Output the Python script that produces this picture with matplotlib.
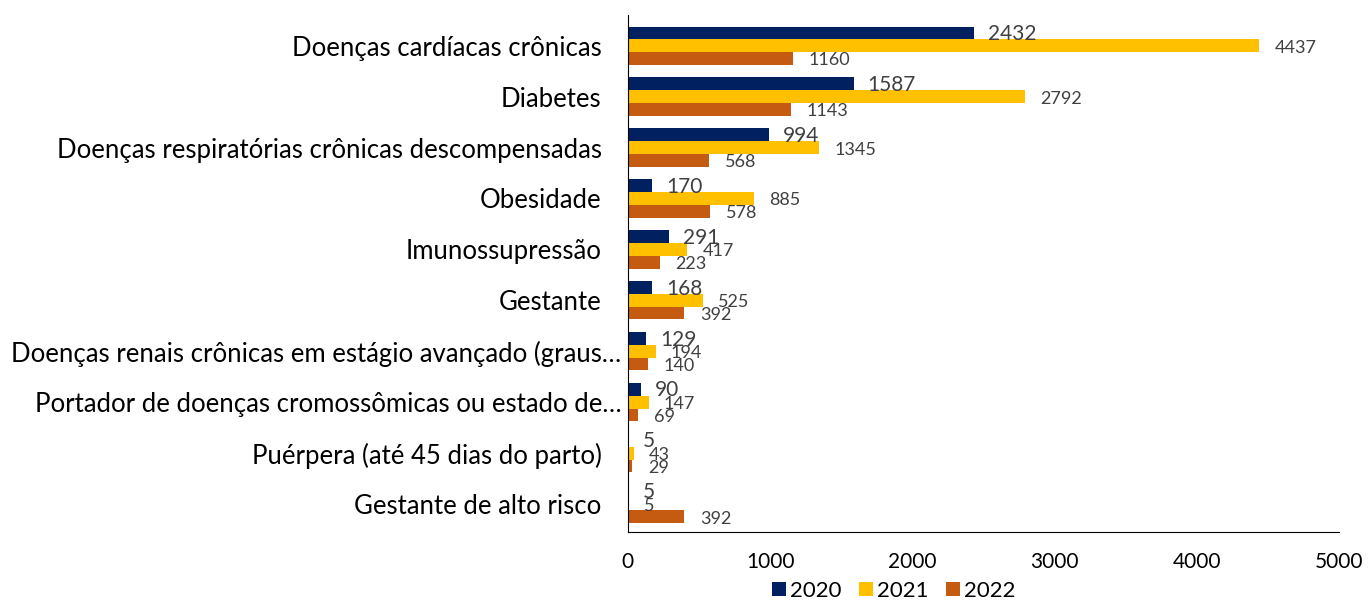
import matplotlib.pyplot as plt
import matplotlib.transforms as mtransforms
import numpy as np

plt.rcParams["font.family"] = ["Lato", "DejaVu Sans"]

categories = [
    "Doenças cardíacas crônicas",
    "Diabetes",
    "Doenças respiratórias crônicas descompensadas",
    "Obesidade",
    "Imunossupressão",
    "Gestante",
    "Doenças renais crônicas em estágio avançado (graus…",
    "Portador de doenças cromossômicas ou estado de…",
    "Puérpera (até 45 dias do parto)",
    "Gestante de alto risco",
]
years = ["2020", "2021", "2022"]
v2020 = [2432, 1587, 994, 170, 291, 168, 129, 90, 5, 5]
v2021 = [4437, 2792, 1345, 885, 417, 525, 194, 147, 43, 5]
v2022 = [1160, 1143, 568, 578, 223, 392, 140, 69, 29, 392]

colors = ["#002060", "#FFC000", "#C55A11"]

fig = plt.figure(figsize=(13.71, 6.04), dpi=100)
ax = fig.add_axes([0.458, 0.119, 0.519, 0.856])

y = np.arange(len(categories))
h = 0.25
series = [v2020, v2021, v2022]
offsets = [-h, 0, h]
label_style = [
    dict(fontsize=15, offset=(14, -1)),
    dict(fontsize=13, offset=(15, -2)),
    dict(fontsize=13, offset=(16, -2)),
]
for vals, off, col, yr, st in zip(series, offsets, colors, years, label_style):
    ax.barh(y + off, vals, height=h, color=col, label=yr)
    for yi, v in zip(y + off, vals):
        ax.annotate(str(v), (v, yi), xytext=st["offset"], textcoords="offset pixels",
                    ha="left", va="center", fontsize=st["fontsize"], color="#404040")

ax.set_xlim(0, 5000)
ax.set_ylim(len(categories) - 0.45, -0.6)
ax.set_xticks(range(0, 5001, 1000))
ax.set_yticks(y)
ax.set_yticklabels(categories, fontsize=18.5)
ax.tick_params(axis="x", length=0, pad=14, labelsize=15)
ax.tick_params(axis="y", length=0, pad=19)
# truncated labels sit closer to the axis, as in the original
shift = mtransforms.ScaledTranslation(0.2, 0, fig.dpi_scale_trans)
for lab in ax.get_yticklabels():
    if lab.get_text().endswith("…"):
        lab.set_transform(lab.get_transform() + shift)
for s in ["top", "right"]:
    ax.spines[s].set_visible(False)
ax.spines["left"].set_color("black")
ax.spines["bottom"].set_color("black")

fig.legend(loc="center", bbox_to_anchor=(0.652, 0.022), ncol=3, frameon=False,
           fontsize=16, handlelength=0.6, handleheight=0.6, handletextpad=0.2,
           columnspacing=0.8)

fig.savefig("out.png", dpi=100)
